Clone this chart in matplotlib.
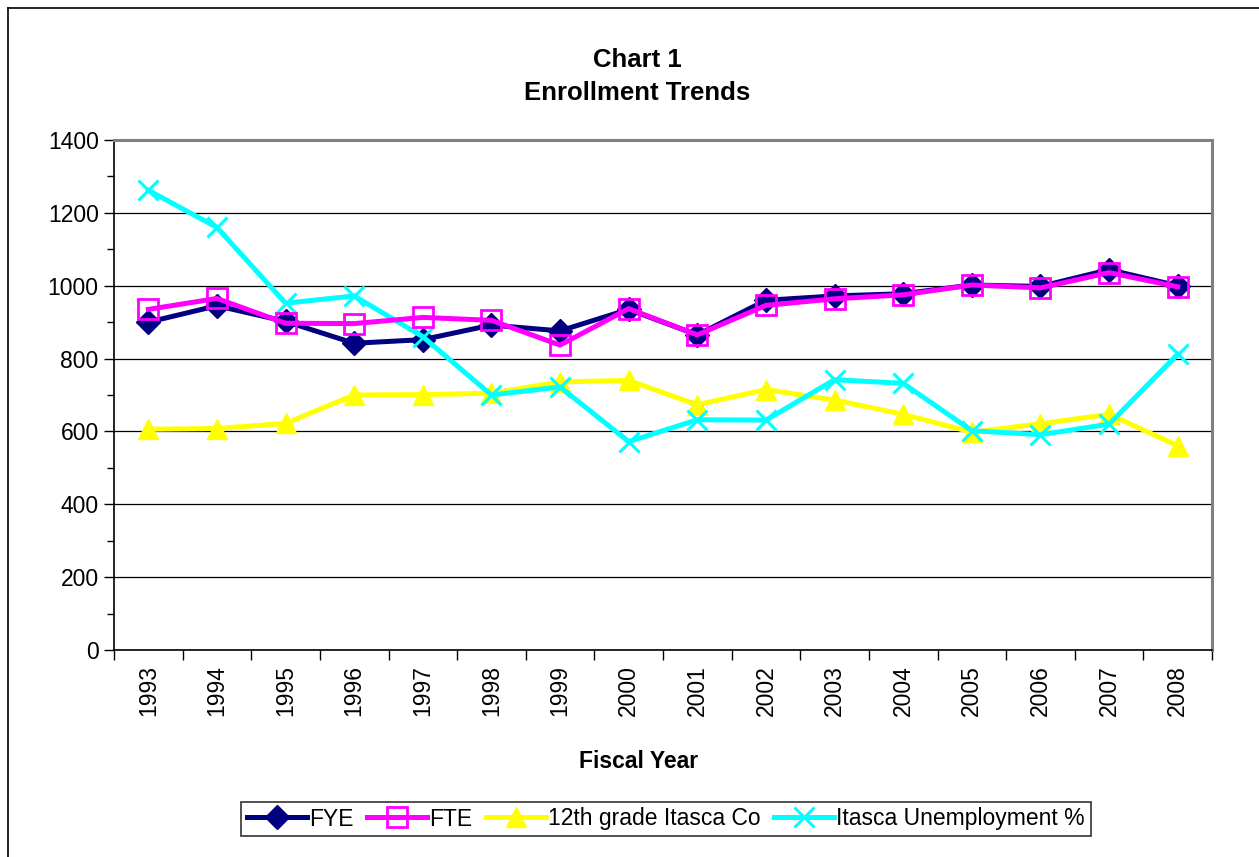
import matplotlib
matplotlib.use("Agg")
import matplotlib.pyplot as plt
from matplotlib.lines import Line2D

plt.rcParams['font.family'] = ['Liberation Sans', 'DejaVu Sans']

years = ["1993", "1994", "1995", "1996", "1997", "1998", "1999", "2000",
         "2001", "2002", "2003", "2004", "2005", "2006", "2007", "2008"]
fye = [900, 945, 902, 842, 852, 892, 876, 935, 865, 960, 972, 978, 1002, 998, 1044, 1000]
fte = [935, 965, 897, 896, 913, 905, 837, 937, 865, 946, 964, 975, 1002, 994, 1036, 997]
grade12 = [606, 608, 622, 700, 701, 705, 736, 740, 673, 715, 686, 647, 598, 621, 647, 561]
unemployment = [1262, 1160, 952, 972, 860, 700, 722, 572, 632, 631, 742, 732, 602, 591, 620, 812]


def main():
    fig = plt.figure(figsize=(12.59, 8.57), dpi=100)
    ax = fig.add_axes([114 / 1259, 1 - 650 / 857, (1212 - 114) / 1259, (650 - 140) / 857])

    x = list(range(len(years)))
    ax.plot(x, fye, color="#000080", lw=3.6, marker="D", ms=12, label="FYE", zorder=3)
    ax.plot(x, fte, color="#FF00FF", lw=3.6, marker="s", ms=14, mfc="none", mew=2,
            label="FTE", zorder=4)
    ax.plot(x, grade12, color="#FFFF00", lw=3.6, marker="^", ms=15,
            label="12th grade Itasca Co", zorder=3)
    ax.plot(x, unemployment, color="#00FFFF", lw=3.6, marker="x", ms=15, mew=2.2,
            label="Itasca Unemployment %", zorder=3)

    ax.set_xlim(-0.5, len(years) - 0.5)
    ax.set_ylim(0, 1400)
    ax.set_yticks(range(0, 1401, 200))
    ax.set_yticks(range(100, 1400, 200), minor=True)
    ax.yaxis.grid(True, color="black", lw=0.9)
    ax.set_axisbelow(True)

    ax.set_xticks([i - 0.5 for i in range(len(years) + 1)])
    ax.set_xticklabels([])
    ax.set_xticks(x, minor=True)
    ax.set_xticklabels(years, minor=True, rotation=90, fontsize=16.5)
    ax.tick_params(axis="x", which="minor", length=0, pad=11)
    ax.tick_params(axis="x", which="major", length=7, direction="out", width=1)
    ax.tick_params(axis="y", which="major", length=7, width=1, labelsize=16.5, pad=4)
    ax.tick_params(axis="y", which="minor", length=5, width=1)

    for side in ("top", "right"):
        ax.spines[side].set_color("#808080")
        ax.spines[side].set_linewidth(2.2)
    for side in ("left", "bottom"):
        ax.spines[side].set_color("black")
        ax.spines[side].set_linewidth(1.2)

    fig.text(637 / 1259, 1 - 60 / 857, "Chart 1", ha="center", va="center",
             fontsize=18.5, fontweight="bold")
    fig.text(637 / 1259, 1 - 93 / 857, "Enrollment Trends", ha="center", va="center",
             fontsize=18.5, fontweight="bold")
    fig.text(639 / 1259, 1 - 762 / 857, "Fiscal Year", ha="center", va="center",
             fontsize=16.5, fontweight="bold")

    leg = fig.legend(loc="center", bbox_to_anchor=(666 / 1259, 1 - 819 / 857), ncol=4,
                     fontsize=16.5, frameon=True, fancybox=False, handlelength=2.6,
                     handletextpad=0.1, columnspacing=0.6, borderpad=0.25,
                     borderaxespad=0)
    leg.get_frame().set_edgecolor("black")
    leg.get_frame().set_linewidth(1.2)

    # outer chart border (only top and left visible)
    fig.add_artist(Line2D([8 / 1259, 1.0], [1 - 8 / 857, 1 - 8 / 857], color="black", lw=1.2))
    fig.add_artist(Line2D([8 / 1259, 8 / 1259], [0, 1 - 8 / 857], color="black", lw=1.2))

    fig.savefig("out.png", dpi=100)


if __name__ == '__main__':
    main()
